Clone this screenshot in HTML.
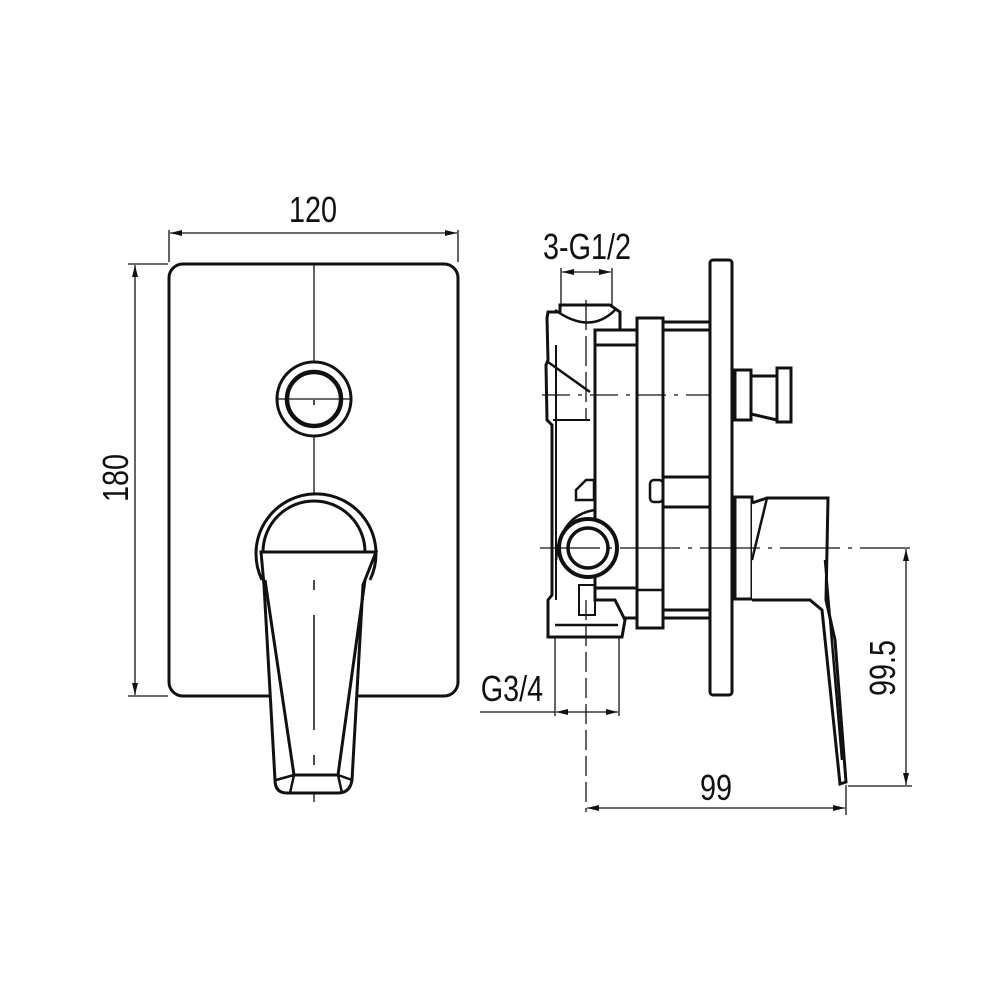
<!DOCTYPE html>
<html><head><style>body{margin:0;background:#fff}svg{display:block}</style></head><body>
<svg width="1000" height="1000" viewBox="0 0 1000 1000" xmlns="http://www.w3.org/2000/svg" font-family="Liberation Sans, sans-serif">
<defs><marker id="a" viewBox="0 0 12 6" refX="12" refY="3" markerWidth="12" markerHeight="6" orient="auto-start-reverse" markerUnits="userSpaceOnUse"><path d="M0,0L12,3L0,6z" fill="#111"/></marker></defs>
<g stroke="#111" fill="none">
<rect x="169" y="264" width="289" height="432" rx="14" stroke-width="3"/>
<line x1="314" y1="264" x2="314" y2="802" stroke-width="1.3"/>
<circle cx="314" cy="399" r="37" stroke-width="3" fill="#fff"/>
<circle cx="314" cy="399" r="27" stroke-width="4.5" fill="#fff"/>
<line x1="276" y1="399" x2="352" y2="399" stroke-width="1.3"/>
<path d="M262,580 A60,60 0 1 1 370,580" stroke-width="3" fill="#fff"/>
<path d="M263,552 A51,51 0 0 1 365,552" stroke-width="3"/>
<path d="M261,552 L376,552 L363,585 L352,780 Q350,793 338,793 L287,793 Q275,793 275,780 L264,585 Z" stroke-width="3" fill="#fff"/>
<path d="M265,580 L294,775 L338,775 L365,580" stroke-width="3"/>
<path d="M276,780 L294,775 M352,780 L338,775 M294,775 L290,793 M338,775 L342,793" stroke-width="2.5"/>
<line x1="314" y1="400" x2="314" y2="405" stroke-width="1.5"/>
<line x1="314" y1="580" x2="314" y2="590" stroke-width="1.5"/>
<line x1="314" y1="615" x2="314" y2="730" stroke-width="1.5"/>
<line x1="314" y1="755" x2="314" y2="765" stroke-width="1.5"/>
<line x1="169" y1="230" x2="169" y2="262" stroke-width="1.3"/>
<line x1="458" y1="230" x2="458" y2="262" stroke-width="1.3"/>
<line x1="170" y1="233" x2="457" y2="233" stroke-width="1.3" marker-start="url(#a)" marker-end="url(#a)"/>
<line x1="128" y1="264" x2="168" y2="264" stroke-width="1.3"/>
<line x1="128" y1="696" x2="168" y2="696" stroke-width="1.3"/>
<line x1="135" y1="265" x2="135" y2="695" stroke-width="1.3" marker-start="url(#a)" marker-end="url(#a)"/>
<rect x="710" y="260" width="22" height="435" rx="3" stroke-width="3" fill="#fff"/>
<rect x="595" y="330" width="115" height="288" stroke-width="3"/>
<line x1="595" y1="345" x2="637" y2="345" stroke-width="3"/>
<line x1="663" y1="322" x2="710" y2="322" stroke-width="3"/>
<line x1="663" y1="610" x2="710" y2="610" stroke-width="3"/>
<line x1="663" y1="477" x2="710" y2="477" stroke-width="3"/>
<line x1="663" y1="507" x2="710" y2="507" stroke-width="3"/>
<line x1="595" y1="588" x2="637" y2="588" stroke-width="3"/>
<rect x="637" y="318" width="26" height="310" stroke-width="3" fill="#fff"/>
<rect x="650" y="480" width="13" height="22" rx="4" stroke-width="2.5"/>
<rect x="637" y="590" width="26" height="38" stroke-width="2.5"/>
<path d="M560,312 L548,312 L547,318 L548,360 L546,365 L547,420 L552,425 L552,595 L548,600 L548,637 L622,637 L625,620 L615,600 L595,600 L595,330 L620,330 L620,312 L610,305 L560,305 Z" stroke-width="3" fill="#fff"/>
<path d="M555,310 Q590,335 615,310" stroke-width="2.5"/>
<path d="M548,362 L590,392" stroke-width="2.5"/>
<path d="M553,420 L590,420" stroke-width="2"/>
<path d="M555,625 L618,625" stroke-width="2.5"/>
<line x1="556" y1="345" x2="556" y2="600" stroke-width="2"/>
<path d="M556,560 Q560,515 595,510" stroke-width="2.5"/>
<circle cx="588" cy="548" r="29" stroke-width="4" fill="#fff"/>
<circle cx="588" cy="548" r="20" stroke-width="3.5"/>
<path d="M576,490 L586,480 L594,480 L594,500 L576,500 Z" stroke-width="2.5"/>
<path d="M579,585 L595,585 L595,615 L579,615Z" stroke-width="2"/>
<rect x="735" y="370" width="16" height="50" stroke-width="3" fill="#fff"/>
<path d="M751,376 L777,376 L777,420 L751,414" stroke-width="3"/>
<rect x="777" y="368" width="14" height="54" stroke-width="3" fill="#fff"/>
<rect x="735" y="497" width="17" height="102" stroke-width="3" fill="#fff"/>
<path d="M752,503 L767,498 L828,498 L826,600 L835,640 L846,782 L840,784 L822,610 L810,600 L752,600" stroke-width="3" fill="#fff"/>
<path d="M752,560 L767,498" stroke-width="2.5"/>
<path d="M825,560 L842,760" stroke-width="2.5"/>
<line x1="542" y1="395" x2="710" y2="395" stroke-width="1.3" stroke-dasharray="28,8,4,8"/>
<line x1="540" y1="548" x2="910" y2="548" stroke-width="1.3" stroke-dasharray="60,8,4,8"/>
<line x1="586" y1="300" x2="586" y2="420" stroke-width="1.3" stroke-dasharray="30,6"/>
<line x1="586" y1="600" x2="586" y2="812" stroke-width="1.3" stroke-dasharray="20,6"/>
<line x1="561" y1="268" x2="561" y2="308" stroke-width="1.3"/>
<line x1="612" y1="268" x2="612" y2="308" stroke-width="1.3"/>
<line x1="562" y1="272" x2="611" y2="272" stroke-width="1.3" marker-start="url(#a)" marker-end="url(#a)"/>
<line x1="555" y1="638" x2="555" y2="716" stroke-width="1.3"/>
<line x1="619" y1="638" x2="619" y2="716" stroke-width="1.3"/>
<line x1="480" y1="712" x2="555" y2="712" stroke-width="1.3"/>
<line x1="556" y1="712" x2="618" y2="712" stroke-width="1.3" marker-start="url(#a)" marker-end="url(#a)"/>
<line x1="846" y1="785" x2="846" y2="815" stroke-width="1.3"/>
<line x1="587" y1="808" x2="845" y2="808" stroke-width="1.3" marker-start="url(#a)" marker-end="url(#a)"/>
<line x1="848" y1="786" x2="912" y2="786" stroke-width="1.3"/>
<line x1="906" y1="549" x2="906" y2="785" stroke-width="1.3" marker-start="url(#a)" marker-end="url(#a)"/>
</g>
<g fill="#111" font-size="36">
<text x="313" y="222" text-anchor="middle" transform="translate(313 0) scale(0.8 1) translate(-313 0)">120</text>
<text x="0" y="0" text-anchor="middle" transform="translate(128 478) rotate(-90) scale(0.8 1)">180</text>
<text x="587" y="259" text-anchor="middle" transform="translate(587 0) scale(0.8 1) translate(-587 0)">3-G1/2</text>
<text x="512" y="701" text-anchor="middle" transform="translate(512 0) scale(0.8 1) translate(-512 0)">G3/4</text>
<text x="716" y="800" text-anchor="middle" transform="translate(716 0) scale(0.8 1) translate(-716 0)">99</text>
<text x="0" y="0" text-anchor="middle" transform="translate(895 668) rotate(-90) scale(0.8 1)">99.5</text>
</g>
</svg>
</body></html>
